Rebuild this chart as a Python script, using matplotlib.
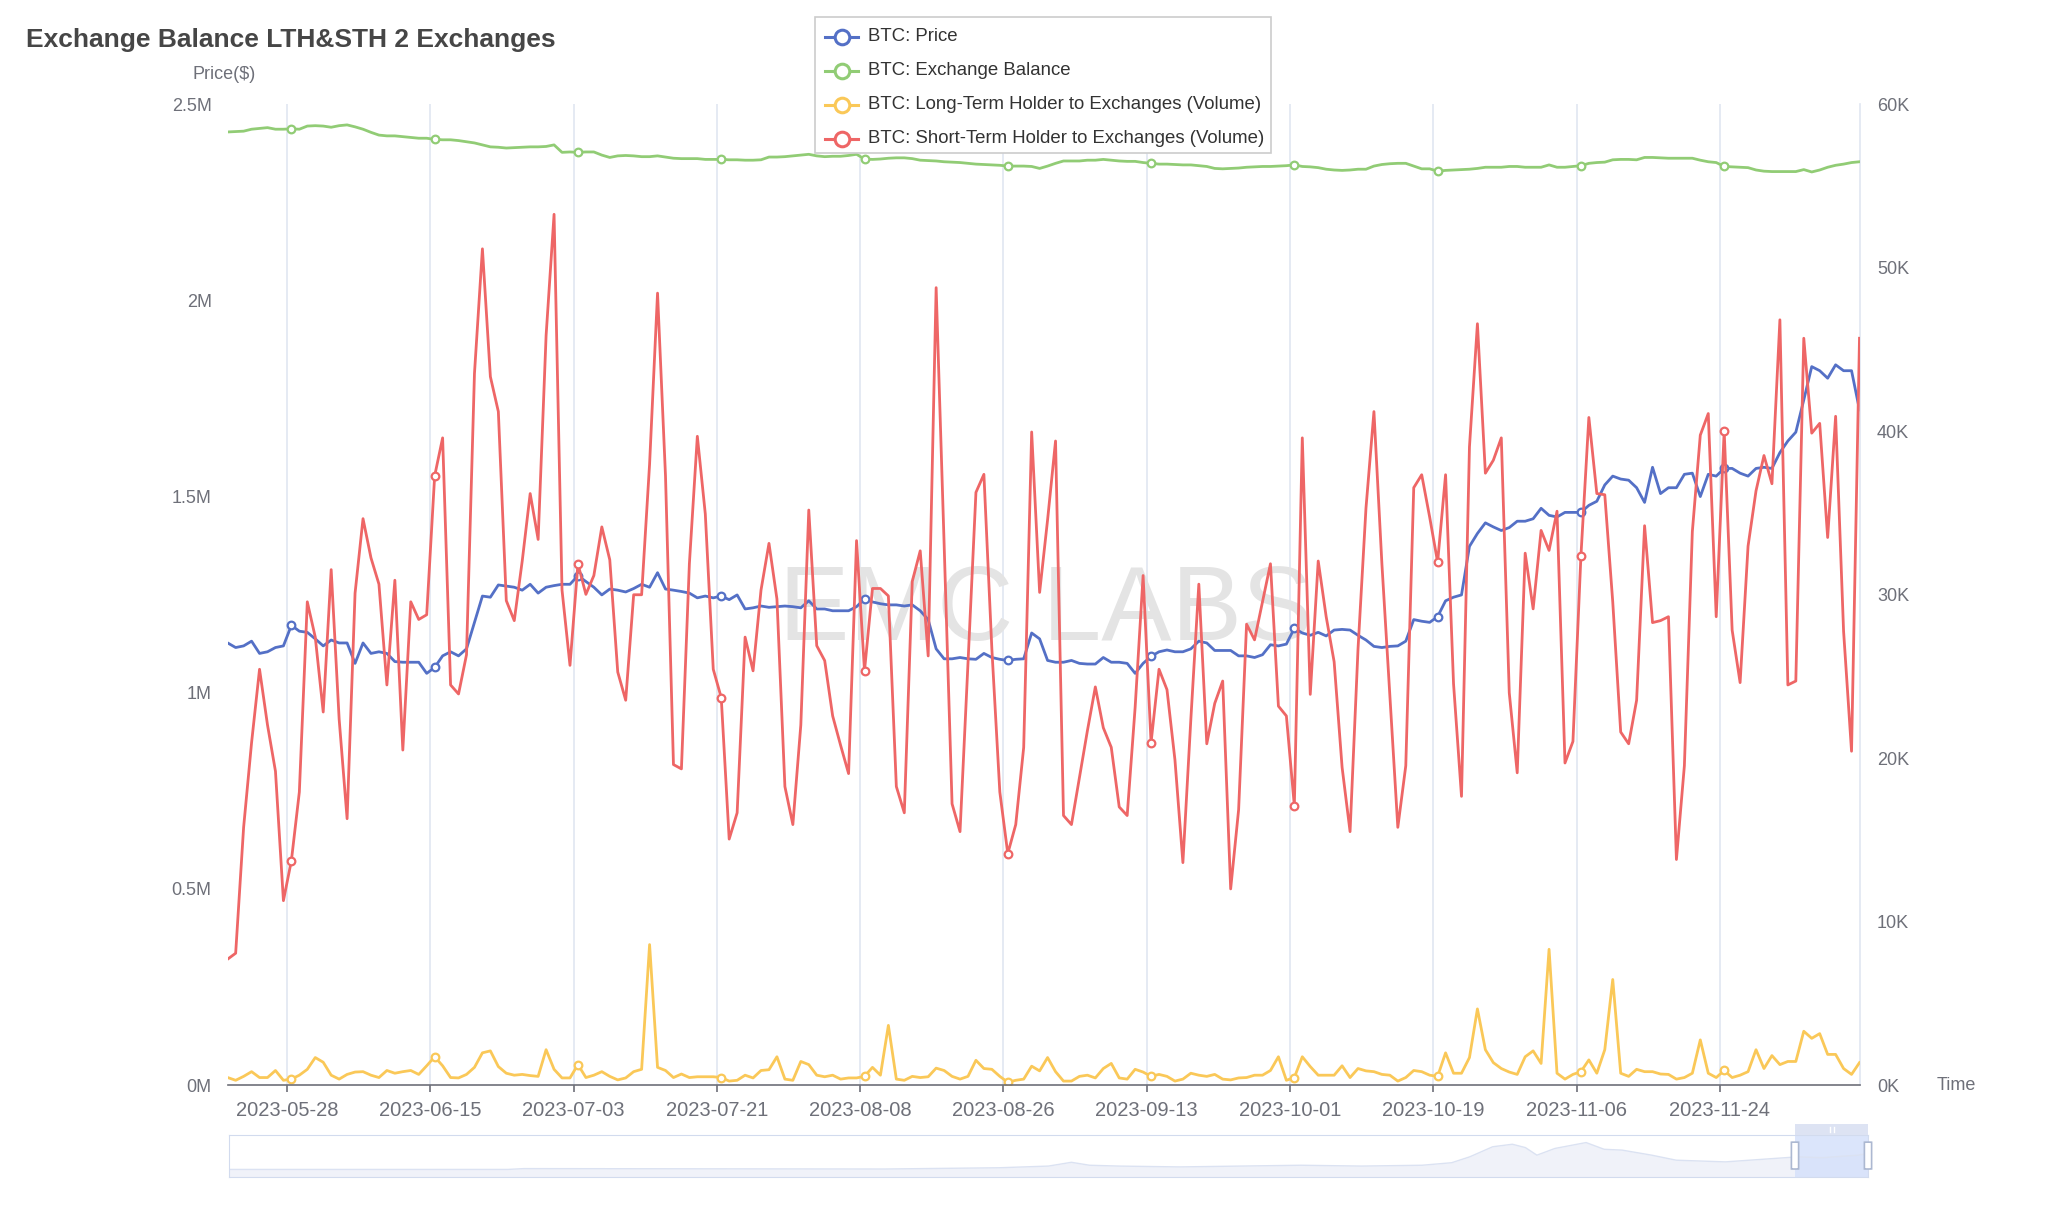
"""Exchange Balance LTH&STH 2 Exchanges: price, exchange balance and holder flows."""

import matplotlib

matplotlib.use("Agg")

import matplotlib.pyplot as plt
import pandas as pd
from matplotlib.lines import Line2D
from matplotlib.patches import FancyBboxPatch, Rectangle

plt.rcParams["font.family"] = ["Liberation Sans", "DejaVu Sans"]

W, H = 2048, 1228
START = "2023-05-20 13:00"

# BTC price, thousand USD (right axis)
price_k = [
    27.05, 26.77, 26.87, 27.16, 26.41, 26.51, 26.77, 26.87, 28.13, 27.77, 27.70, 27.30,
    26.87, 27.23, 27.05, 27.05, 25.80, 27.05, 26.41, 26.51, 26.41, 25.91, 25.87, 25.87,
    25.87, 25.19, 25.55, 26.26, 26.51, 26.26, 26.69, 28.31, 29.92, 29.85, 30.60, 30.53,
    30.46, 30.28, 30.64, 30.10, 30.46, 30.56, 30.64, 30.64, 31.17, 30.81, 30.46, 29.99,
    30.35, 30.28, 30.17, 30.38, 30.64, 30.46, 31.35, 30.35, 30.28, 30.20, 30.10, 29.81,
    29.92, 29.81, 29.92, 29.70, 29.99, 29.13, 29.20, 29.31, 29.23, 29.27, 29.31, 29.27,
    29.20, 29.63, 29.13, 29.13, 29.02, 29.02, 29.02, 29.27, 29.74, 29.56, 29.45, 29.38,
    29.38, 29.31, 29.38, 29.02, 28.48, 26.69, 26.08, 26.08, 26.16, 26.08, 26.05, 26.41,
    26.16, 26.05, 25.98, 26.05, 26.08, 27.66, 27.30, 25.98, 25.87, 25.87, 25.98, 25.80,
    25.76, 25.76, 26.16, 25.87, 25.87, 25.80, 25.19, 25.80, 26.23, 26.51, 26.62, 26.51,
    26.51, 26.69, 27.16, 27.05, 26.59, 26.59, 26.59, 26.26, 26.26, 26.16, 26.33, 26.94,
    26.87, 26.98, 27.95, 27.66, 27.52, 27.70, 27.48, 27.84, 27.88, 27.84, 27.52, 27.23,
    26.84, 26.77, 26.84, 26.87, 27.16, 28.48, 28.38, 28.31, 28.66, 29.63, 29.85, 29.99,
    32.96, 33.75, 34.40, 34.15, 33.93, 34.11, 34.50, 34.50, 34.65, 35.29, 34.86, 34.76,
    35.04, 35.04, 35.04, 35.47, 35.72, 36.72, 37.26, 37.08, 37.01, 36.55, 35.65, 37.80,
    36.19, 36.55, 36.55, 37.37, 37.44, 36.01, 37.37, 37.26, 37.73, 37.73, 37.44, 37.26,
    37.73, 37.80, 37.73, 38.70, 39.41, 39.95, 41.92, 43.96, 43.71, 43.25, 44.07, 43.71,
    43.71, 41.31,
]

# exchange balance, million BTC (left axis)
exchange_balance_m = [
    2.430, 2.431, 2.432, 2.437, 2.439, 2.441, 2.437, 2.437, 2.438, 2.437, 2.445, 2.446,
    2.445, 2.442, 2.446, 2.448, 2.443, 2.437, 2.429, 2.422, 2.420, 2.420, 2.418, 2.416,
    2.414, 2.414, 2.411, 2.410, 2.410, 2.408, 2.405, 2.402, 2.397, 2.392, 2.391, 2.389,
    2.390, 2.391, 2.392, 2.392, 2.393, 2.397, 2.378, 2.379, 2.378, 2.379, 2.379, 2.371,
    2.365, 2.369, 2.370, 2.369, 2.367, 2.367, 2.369, 2.366, 2.363, 2.362, 2.362, 2.362,
    2.360, 2.360, 2.360, 2.359, 2.359, 2.358, 2.358, 2.359, 2.366, 2.366, 2.367, 2.369,
    2.371, 2.373, 2.369, 2.367, 2.368, 2.368, 2.370, 2.373, 2.361, 2.360, 2.361, 2.363,
    2.364, 2.364, 2.362, 2.358, 2.357, 2.356, 2.354, 2.353, 2.352, 2.350, 2.348, 2.347,
    2.346, 2.345, 2.343, 2.343, 2.343, 2.342, 2.337, 2.343, 2.350, 2.356, 2.356, 2.356,
    2.358, 2.358, 2.360, 2.358, 2.356, 2.355, 2.355, 2.352, 2.350, 2.348, 2.348, 2.347,
    2.346, 2.346, 2.344, 2.342, 2.337, 2.336, 2.337, 2.338, 2.340, 2.341, 2.342, 2.342,
    2.343, 2.344, 2.346, 2.342, 2.341, 2.339, 2.335, 2.333, 2.332, 2.333, 2.335, 2.335,
    2.343, 2.347, 2.349, 2.350, 2.350, 2.343, 2.336, 2.336, 2.330, 2.332, 2.333, 2.334,
    2.335, 2.337, 2.340, 2.340, 2.340, 2.342, 2.342, 2.340, 2.340, 2.340, 2.346, 2.340,
    2.340, 2.342, 2.344, 2.350, 2.352, 2.353, 2.359, 2.360, 2.360, 2.359, 2.365, 2.365,
    2.364, 2.363, 2.363, 2.363, 2.363, 2.358, 2.354, 2.352, 2.342, 2.341, 2.340, 2.339,
    2.333, 2.330, 2.329, 2.329, 2.329, 2.329, 2.334, 2.328, 2.333, 2.340, 2.345, 2.348,
    2.352, 2.354,
]

# long-term holder to exchanges, million BTC
lth_volume_m = [
    0.019, 0.012, 0.022, 0.034, 0.019, 0.019, 0.037, 0.012, 0.015, 0.025, 0.040, 0.070,
    0.058, 0.025, 0.015, 0.027, 0.033, 0.034, 0.025, 0.019, 0.037, 0.030, 0.034, 0.037,
    0.027, 0.049, 0.072, 0.049, 0.019, 0.018, 0.027, 0.045, 0.082, 0.087, 0.047, 0.030,
    0.025, 0.027, 0.024, 0.022, 0.090, 0.040, 0.018, 0.018, 0.052, 0.019, 0.025, 0.034,
    0.022, 0.013, 0.018, 0.034, 0.040, 0.358, 0.045, 0.037, 0.019, 0.028, 0.019, 0.021,
    0.021, 0.021, 0.019, 0.010, 0.012, 0.025, 0.018, 0.037, 0.039, 0.072, 0.015, 0.012,
    0.060, 0.052, 0.025, 0.021, 0.025, 0.015, 0.018, 0.018, 0.022, 0.045, 0.025, 0.152,
    0.015, 0.012, 0.022, 0.019, 0.021, 0.043, 0.037, 0.022, 0.015, 0.022, 0.063, 0.042,
    0.040, 0.022, 0.007, 0.012, 0.015, 0.048, 0.036, 0.070, 0.034, 0.010, 0.010, 0.022,
    0.025, 0.018, 0.042, 0.055, 0.018, 0.015, 0.040, 0.033, 0.022, 0.027, 0.022, 0.010,
    0.015, 0.030, 0.025, 0.022, 0.027, 0.015, 0.013, 0.018, 0.019, 0.025, 0.025, 0.037,
    0.072, 0.012, 0.019, 0.072, 0.047, 0.025, 0.025, 0.025, 0.049, 0.019, 0.042, 0.036,
    0.034, 0.027, 0.025, 0.010, 0.019, 0.037, 0.034, 0.025, 0.022, 0.082, 0.030, 0.030,
    0.070, 0.194, 0.090, 0.057, 0.042, 0.033, 0.027, 0.072, 0.087, 0.055, 0.346, 0.030,
    0.015, 0.027, 0.034, 0.064, 0.030, 0.090, 0.269, 0.030, 0.022, 0.040, 0.034, 0.034,
    0.028, 0.027, 0.015, 0.019, 0.030, 0.115, 0.030, 0.019, 0.037, 0.019, 0.025, 0.034,
    0.090, 0.042, 0.075, 0.052, 0.060, 0.060, 0.137, 0.119, 0.131, 0.078, 0.078, 0.042,
    0.027, 0.057,
]

# short-term holder to exchanges, million BTC
sth_volume_m = [
    0.321, 0.336, 0.657, 0.873, 1.060, 0.918, 0.800, 0.470, 0.572, 0.747, 1.232, 1.142,
    0.951, 1.314, 0.933, 0.679, 1.254, 1.444, 1.344, 1.277, 1.020, 1.287, 0.854, 1.232,
    1.187, 1.199, 1.553, 1.650, 1.020, 0.997, 1.097, 1.814, 2.132, 1.806, 1.717, 1.235,
    1.184, 1.336, 1.508, 1.391, 1.911, 2.220, 1.262, 1.070, 1.329, 1.251, 1.299, 1.423,
    1.339, 1.053, 0.981, 1.250, 1.250, 1.583, 2.019, 1.553, 0.817, 0.806, 1.329, 1.654,
    1.456, 1.060, 0.988, 0.627, 0.694, 1.142, 1.056, 1.262, 1.381, 1.239, 0.761, 0.664,
    0.918, 1.466, 1.120, 1.082, 0.941, 0.866, 0.794, 1.388, 1.056, 1.266, 1.266, 1.247,
    0.761, 0.694, 1.284, 1.362, 1.094, 2.033, 1.381, 0.717, 0.646, 1.075, 1.511, 1.557,
    1.112, 0.747, 0.590, 0.664, 0.861, 1.665, 1.256, 1.441, 1.642, 0.687, 0.664, 0.784,
    0.903, 1.015, 0.911, 0.861, 0.709, 0.687, 0.963, 1.299, 0.873, 1.060, 1.008, 0.829,
    0.567, 0.933, 1.277, 0.870, 0.973, 1.030, 0.500, 0.702, 1.175, 1.135, 1.232, 1.329,
    0.966, 0.941, 0.712, 1.650, 0.996, 1.336, 1.194, 1.079, 0.810, 0.646, 1.112, 1.471,
    1.717, 1.329, 0.993, 0.657, 0.814, 1.523, 1.556, 1.448, 1.333, 1.556, 1.023, 0.736,
    1.627, 1.941, 1.560, 1.593, 1.650, 1.000, 0.796, 1.356, 1.214, 1.414, 1.363, 1.463,
    0.821, 0.876, 1.348, 1.702, 1.508, 1.505, 1.232, 0.900, 0.870, 0.981, 1.426, 1.179,
    1.184, 1.194, 0.575, 0.814, 1.411, 1.657, 1.712, 1.194, 1.668, 1.160, 1.026, 1.374,
    1.515, 1.605, 1.533, 1.951, 1.020, 1.030, 1.904, 1.662, 1.687, 1.396, 1.705, 1.157,
    0.851, 1.904,
]

tick_dates = [
    "2023-05-28", "2023-06-15", "2023-07-03", "2023-07-21", "2023-08-08", "2023-08-26",
    "2023-09-13", "2023-10-01", "2023-10-19", "2023-11-06", "2023-11-24",
]
left_ticks = [0, 0.5, 1, 1.5, 2, 2.5]
right_ticks = [0, 10, 20, 30, 40, 50, 60]

series_names = [
    "BTC: Price",
    "BTC: Exchange Balance",
    "BTC: Long-Term Holder to Exchanges (Volume)",
    "BTC: Short-Term Holder to Exchanges (Volume)",
]

# overview shape in the zoom slider (position 0..1, relative level 0..1)
slider_pos = [0.0, 0.17, 0.18, 0.40, 0.47, 0.50, 0.514, 0.525, 0.543, 0.58, 0.617,
              0.654, 0.691, 0.728, 0.746, 0.757, 0.771, 0.783, 0.791, 0.798, 0.809,
              0.828, 0.839, 0.850, 0.868, 0.883, 0.913, 0.935, 0.957, 0.972, 0.994, 1.0]
slider_level = [0.18, 0.18, 0.20, 0.19, 0.22, 0.26, 0.35, 0.28, 0.26, 0.24, 0.26,
                0.28, 0.26, 0.28, 0.34, 0.48, 0.72, 0.78, 0.70, 0.52, 0.68,
                0.82, 0.66, 0.64, 0.52, 0.40, 0.36, 0.42, 0.48, 0.46, 0.52, 0.56]

BLUE, GREEN, YELLOW, RED = "#5470c6", "#91cc75", "#fac858", "#ee6666"
GREY = "#6e7079"
GRID = "#e0e6f1"


def box(x0, y0, x1, y1):
    """Pixel box (top-left origin) -> figure fraction rect."""
    return [x0 / W, 1 - y1 / H, (x1 - x0) / W, (y1 - y0) / H]


def fx(px):
    return px / W


def fy(py):
    return 1 - py / H


def main() -> None:
    dates = pd.date_range(START, periods=len(price_k), freq="D")
    ticks = pd.to_datetime(tick_dates)

    fig = plt.figure(figsize=(W / 100, H / 100), dpi=100)
    fig.patch.set_facecolor("white")

    ax = fig.add_axes(box(227.7, 104.5, 1859.5, 1085))
    axp = ax.twinx()
    ax.set_zorder(axp.get_zorder() + 1)
    ax.patch.set_visible(False)

    # watermark and grid sit under every line
    axp.text(fx(1046), fy(640), "EMC LABS", transform=fig.transFigure, ha="center",
             va="baseline", fontsize=76, color="#e4e4e4", zorder=0.5)
    for t in ticks:
        axp.axvline(t, color=GRID, lw=1.2, zorder=0.4)

    marks = dict(marker="o", markevery=slice(8, None, 18), ms=5.5, mfc="white", mew=1.6)
    axp.plot(dates, price_k, color=BLUE, lw=2, zorder=2, **marks)
    ax.plot(dates, exchange_balance_m, color=GREEN, lw=2, **marks)
    ax.plot(dates, lth_volume_m, color=YELLOW, lw=2, **marks)
    ax.plot(dates, sth_volume_m, color=RED, lw=2, **marks)

    ax.set_xlim(dates[0], dates[-1])
    ax.set_ylim(0, 2.5)
    axp.set_ylim(0, 60)

    ax.set_xticks(ticks)
    ax.set_xticklabels(tick_dates)
    ax.tick_params(axis="x", length=5, width=1.2, color=GREY, labelsize=14.5,
                   labelcolor=GREY, pad=6.5)
    ax.set_yticks(left_ticks)
    ax.set_yticklabels([f"{v:g}M" for v in left_ticks])
    ax.tick_params(axis="y", length=0, pad=11.5, labelsize=13, labelcolor=GREY)
    axp.set_yticks(right_ticks)
    axp.set_yticklabels([f"{v:g}K" for v in right_ticks])
    axp.tick_params(axis="y", length=0, pad=12.5, labelsize=13, labelcolor=GREY)

    for s in ax.spines.values():
        s.set_visible(False)
    ax.spines["bottom"].set_visible(True)
    ax.spines["bottom"].set_color(GREY)
    ax.spines["bottom"].set_linewidth(1.2)
    for s in axp.spines.values():
        s.set_visible(False)
    axp.spines["right"].set_visible(True)
    axp.spines["right"].set_color(GRID)
    axp.spines["right"].set_linewidth(1.2)

    fig.text(fx(26), fy(47), "Exchange Balance LTH&STH 2 Exchanges", fontsize=19,
             fontweight="bold", color="#464646", va="baseline")
    fig.text(fx(224), fy(74.5), "Price($)", fontsize=13, color=GREY, ha="center", va="center")
    fig.text(fx(1937), fy(1085), "Time", fontsize=13, color=GREY, ha="left", va="center")

    # legend, drawn by hand to keep the echarts look
    fig.add_artist(Rectangle((fx(815), fy(153)), fx(1271) - fx(815), fy(17) - fy(153),
                             transform=fig.transFigure, fc="white", ec="#cccccc", lw=1.2,
                             zorder=10))
    for k, (name, color) in enumerate(zip(series_names, [BLUE, GREEN, YELLOW, RED])):
        y = fy(36.5 + 34 * k)
        fig.add_artist(Line2D([fx(825), fx(858)], [y, y], color=color, lw=2.2,
                              transform=fig.transFigure, zorder=11))
        fig.add_artist(Line2D([fx(841.5)], [y], marker="o", ms=10.5, mfc="white", mec=color,
                              mew=2.2, transform=fig.transFigure, zorder=12))
        fig.text(fx(868), y, name, fontsize=13.4, color="#333333", va="center", zorder=12)

    # data zoom slider
    axs = fig.add_axes(box(229, 1135, 1868, 1177))
    axs.fill_between(slider_pos, 0, slider_level, color="#f0f2f9", lw=0)
    axs.plot(slider_pos, slider_level, color="#dbe2f2", lw=1)
    sel0 = (1795 - 229) / (1868 - 229)
    axs.axvspan(sel0, 1, color="#d5e1fb", alpha=0.85, lw=0)
    axs.set_xlim(0, 1)
    axs.set_ylim(0, 1)
    axs.set_xticks([])
    axs.set_yticks([])
    for s in axs.spines.values():
        s.set_color("#d2dbee")
    for hx in (sel0, 1.0):
        axs.add_patch(FancyBboxPatch((hx - 0.0022, 0.19), 0.0044, 0.64,
                                     boxstyle="round,pad=0,rounding_size=0.002",
                                     fc="white", ec="#acb8d1", lw=1.2, clip_on=False,
                                     zorder=5))
    fig.add_artist(Rectangle((fx(1795), fy(1135)), fx(1868) - fx(1795), fy(1124) - fy(1135),
                             transform=fig.transFigure, fc="#dde3f3", ec="none"))
    for bx in (1829.5, 1833.5):
        fig.add_artist(Line2D([fx(bx), fx(bx)], [fy(1127), fy(1132)], color="white", lw=1,
                              transform=fig.transFigure))

    fig.savefig("out.png", dpi=100, facecolor="white")


if __name__ == "__main__":
    main()
